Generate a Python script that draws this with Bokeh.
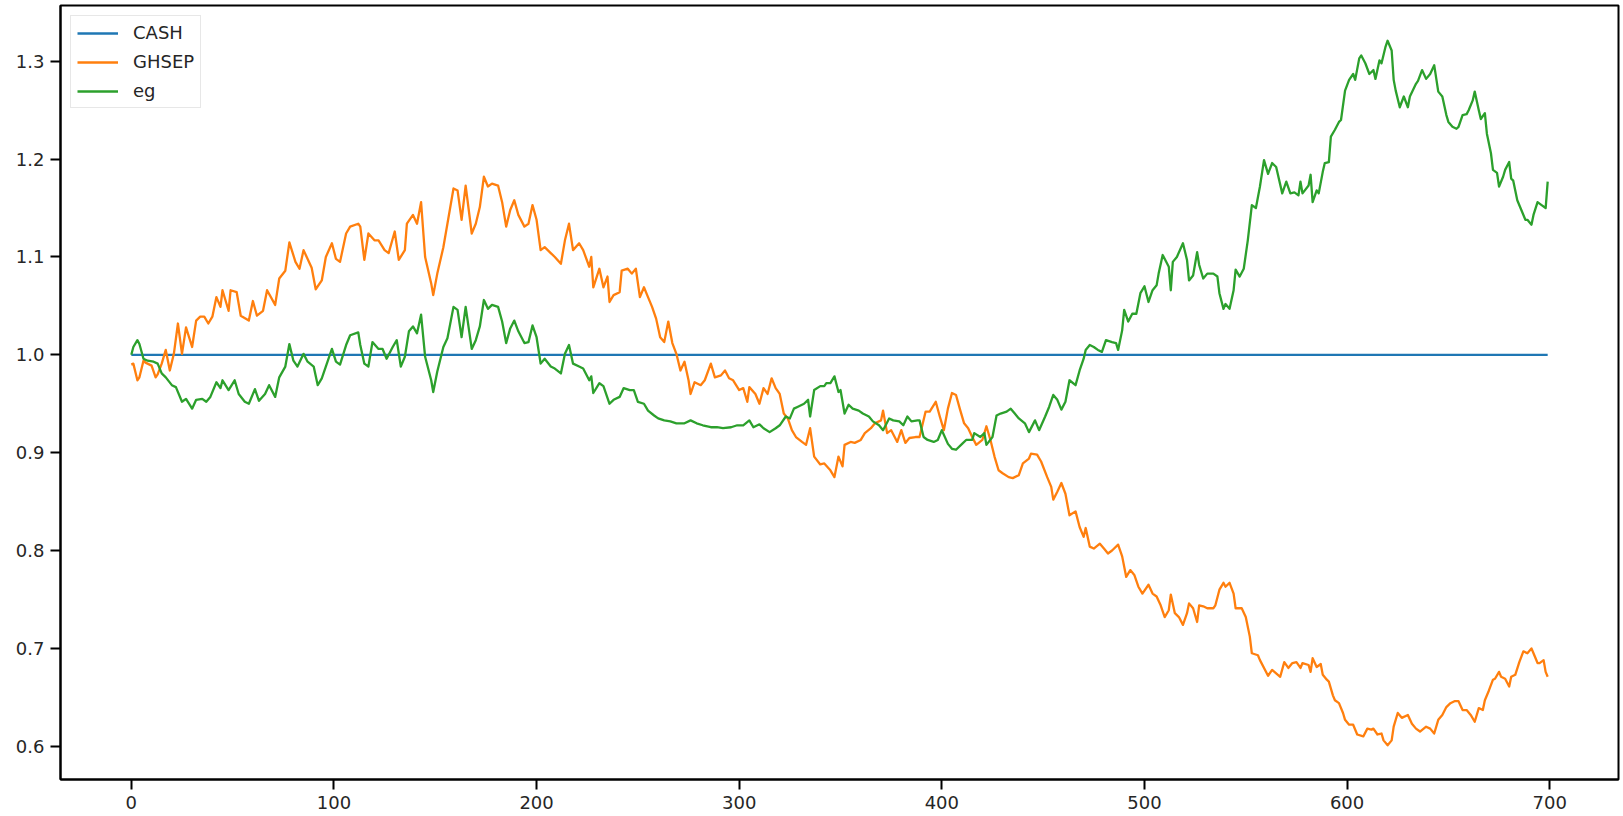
from bokeh.plotting import figure
from bokeh.models import Range1d, FixedTicker, Legend, LegendItem
from bokeh.embed import file_html
from bokeh.resources import INLINE

# ---- data ----
series_names = ["CASH", "GHSEP", "eg"]
series_colors = ["#1f77b4", "#ff7f0e", "#2ca02c"]

cash_x = [0, 699]
cash_y = [1.0, 1.0]

ghsep = [
    (0, 0.990), (1, 0.991), (3, 0.974), (4, 0.977), (6, 0.994), (7, 0.992), (10, 0.989), (12, 0.977), (13, 0.980),
    (15, 0.991), (17, 1.005), (19, 0.984), (21, 1.001), (23, 1.032), (25, 1.001), (27, 1.028), (30, 1.008),
    (32, 1.035), (34, 1.039), (36, 1.039), (38, 1.032), (40, 1.039), (42, 1.059), (44, 1.049), (45, 1.066),
    (48, 1.045), (49, 1.066), (52, 1.064), (54, 1.040), (58, 1.035), (60, 1.055), (62, 1.040), (65, 1.045),
    (67, 1.066), (71, 1.051), (73, 1.078), (76, 1.086), (78, 1.115), (81, 1.095), (83, 1.088), (85, 1.107),
    (89, 1.089), (91, 1.067), (94, 1.076), (96, 1.100), (99, 1.114), (101, 1.098), (103, 1.095), (106, 1.124),
    (108, 1.131), (112, 1.134), (113, 1.131), (115, 1.097), (117, 1.124), (120, 1.117), (122, 1.117),
    (125, 1.107), (127, 1.104), (130, 1.126), (132, 1.097), (135, 1.107), (136, 1.134), (139, 1.143),
    (141, 1.134), (143, 1.156), (145, 1.100), (148, 1.073), (149, 1.061), (151, 1.083), (154, 1.110),
    (156, 1.134), (159, 1.170), (161, 1.168), (163, 1.138), (165, 1.173), (168, 1.124), (170, 1.134),
    (172, 1.151), (174, 1.182), (176, 1.172), (178, 1.175), (181, 1.173), (183, 1.156), (185, 1.131),
    (187, 1.148), (189, 1.158), (191, 1.143), (194, 1.131), (196, 1.134), (198, 1.153), (200, 1.138),
    (202, 1.107), (204, 1.110), (207, 1.104), (209, 1.100), (212, 1.093), (214, 1.117), (216, 1.134),
    (218, 1.107), (221, 1.114), (223, 1.107), (226, 1.090), (227, 1.100), (228, 1.069), (231, 1.088),
    (233, 1.069), (235, 1.080), (236, 1.054), (238, 1.061), (241, 1.064), (242, 1.086), (245, 1.088),
    (247, 1.083), (249, 1.088), (251, 1.059), (253, 1.069), (255, 1.059), (257, 1.049), (259, 1.037),
    (261, 1.018), (263, 1.013), (265, 1.034), (267, 1.012), (269, 1.001), (271, 0.984), (273, 0.993),
    (275, 0.974), (276, 0.960), (278, 0.972), (281, 0.969), (283, 0.974), (286, 0.991), (288, 0.977),
    (291, 0.979), (293, 0.984), (295, 0.976), (297, 0.974), (300, 0.964), (302, 0.966), (304, 0.952),
    (305, 0.967), (308, 0.960), (310, 0.950), (312, 0.966), (314, 0.960), (316, 0.976), (318, 0.966),
    (320, 0.960), (322, 0.940), (324, 0.935), (326, 0.923), (328, 0.916), (331, 0.911), (333, 0.908),
    (335, 0.925), (337, 0.896), (340, 0.888), (342, 0.889), (345, 0.882), (347, 0.875), (349, 0.896),
    (351, 0.886), (352, 0.908), (355, 0.911), (357, 0.910), (360, 0.913), (362, 0.920), (365, 0.925),
    (367, 0.930), (370, 0.933), (371, 0.943), (373, 0.920), (375, 0.923), (378, 0.911), (380, 0.923),
    (382, 0.910), (384, 0.915), (387, 0.916), (389, 0.916), (392, 0.942), (394, 0.942), (397, 0.952),
    (399, 0.937), (401, 0.923), (403, 0.945), (405, 0.961), (407, 0.959), (409, 0.944), (411, 0.930),
    (413, 0.925), (415, 0.916), (417, 0.908), (420, 0.913), (422, 0.927), (424, 0.913), (426, 0.896),
    (428, 0.882), (430, 0.879), (433, 0.875), (435, 0.874), (438, 0.877), (440, 0.889), (443, 0.894),
    (444, 0.899), (447, 0.898), (449, 0.891), (452, 0.875), (454, 0.865), (455, 0.852), (457, 0.860),
    (459, 0.869), (461, 0.858), (463, 0.836), (466, 0.840), (468, 0.824), (470, 0.814), (471, 0.823),
    (473, 0.804), (475, 0.802), (478, 0.807), (480, 0.802), (482, 0.797), (484, 0.800), (487, 0.806),
    (489, 0.794), (491, 0.773), (493, 0.780), (495, 0.775), (497, 0.763), (499, 0.756), (502, 0.765),
    (504, 0.756), (506, 0.753), (508, 0.744), (510, 0.732), (512, 0.739), (513, 0.755), (515, 0.736),
    (517, 0.732), (519, 0.724), (521, 0.736), (522, 0.746), (524, 0.741), (526, 0.727), (527, 0.744),
    (529, 0.743), (531, 0.741), (534, 0.741), (535, 0.744), (537, 0.760), (539, 0.767), (540, 0.763),
    (542, 0.767), (544, 0.756), (545, 0.741), (548, 0.741), (550, 0.732), (552, 0.712), (553, 0.695),
    (556, 0.693), (557, 0.688), (561, 0.672), (563, 0.678), (567, 0.671), (569, 0.686), (571, 0.680),
    (573, 0.685), (575, 0.686), (577, 0.680), (578, 0.685), (581, 0.683), (582, 0.676), (583, 0.690),
    (585, 0.681), (587, 0.684), (588, 0.673), (590, 0.668), (591, 0.666), (593, 0.652), (594, 0.647),
    (596, 0.644), (598, 0.634), (599, 0.627), (601, 0.622), (603, 0.622), (605, 0.612), (608, 0.610),
    (610, 0.618), (612, 0.617), (613, 0.618), (615, 0.612), (617, 0.613), (618, 0.606), (620, 0.601),
    (622, 0.606), (623, 0.620), (625, 0.634), (627, 0.629), (630, 0.632), (632, 0.623), (634, 0.618),
    (636, 0.615), (639, 0.620), (641, 0.618), (643, 0.613), (645, 0.627), (647, 0.632), (649, 0.640),
    (651, 0.644), (653, 0.646), (655, 0.646), (657, 0.637), (659, 0.637), (661, 0.632), (663, 0.625),
    (665, 0.639), (667, 0.637), (668, 0.647), (670, 0.657), (672, 0.668), (673, 0.669), (675, 0.676),
    (676, 0.671), (678, 0.669), (680, 0.661), (681, 0.671), (683, 0.673), (685, 0.686), (687, 0.697),
    (689, 0.695), (691, 0.700), (692, 0.695), (694, 0.685), (695, 0.685), (697, 0.688), (698, 0.676),
    (699, 0.671),
]

eg = [
    (0, 1.000), (1, 1.008), (3, 1.015), (4, 1.011), (6, 0.996), (8, 0.994), (11, 0.993), (13, 0.991),
    (15, 0.981), (17, 0.977), (20, 0.969), (22, 0.967), (25, 0.952), (27, 0.955), (30, 0.945), (32, 0.954),
    (35, 0.955), (37, 0.952), (39, 0.957), (42, 0.972), (44, 0.966), (45, 0.974), (48, 0.964), (51, 0.974),
    (53, 0.960), (56, 0.952), (58, 0.950), (61, 0.965), (63, 0.953), (66, 0.960), (68, 0.969), (71, 0.957),
    (73, 0.977), (76, 0.988), (78, 1.011), (80, 0.994), (82, 0.988), (85, 1.001), (87, 0.993), (90, 0.988),
    (92, 0.969), (94, 0.976), (97, 0.994), (99, 1.006), (101, 0.993), (103, 0.990), (106, 1.010),
    (108, 1.020), (112, 1.023), (113, 1.010), (115, 0.991), (117, 0.988), (119, 1.013), (122, 1.006),
    (124, 1.006), (126, 0.996), (129, 1.008), (131, 1.015), (133, 0.988), (135, 0.998), (137, 1.024),
    (139, 1.029), (141, 1.022), (143, 1.041), (145, 0.998), (148, 0.974), (149, 0.962), (151, 0.983),
    (154, 1.008), (156, 1.017), (159, 1.049), (161, 1.046), (163, 1.018), (165, 1.049), (168, 1.006),
    (170, 1.015), (172, 1.029), (174, 1.056), (176, 1.047), (178, 1.051), (181, 1.049), (183, 1.034),
    (185, 1.012), (187, 1.027), (189, 1.035), (191, 1.024), (194, 1.012), (196, 1.013), (198, 1.030),
    (200, 1.018), (202, 0.991), (204, 0.996), (207, 0.988), (209, 0.986), (212, 0.981), (214, 1.001),
    (216, 1.010), (218, 0.991), (221, 0.988), (223, 0.986), (226, 0.974), (227, 0.978), (228, 0.961),
    (231, 0.971), (233, 0.968), (236, 0.950), (238, 0.954), (241, 0.957), (243, 0.966), (246, 0.964),
    (248, 0.964), (250, 0.952), (253, 0.950), (255, 0.943), (258, 0.938), (260, 0.935), (263, 0.933),
    (266, 0.932), (269, 0.930), (273, 0.930), (276, 0.933), (279, 0.930), (282, 0.928), (286, 0.926),
    (289, 0.926), (292, 0.925), (296, 0.926), (299, 0.928), (302, 0.928), (305, 0.933), (307, 0.926),
    (310, 0.929), (312, 0.925), (315, 0.921), (318, 0.925), (320, 0.928), (323, 0.937), (325, 0.935),
    (327, 0.945), (329, 0.947), (332, 0.950), (334, 0.954), (335, 0.937), (337, 0.964), (340, 0.968),
    (342, 0.968), (343, 0.971), (345, 0.971), (347, 0.978), (349, 0.962), (350, 0.964), (352, 0.940),
    (354, 0.949), (356, 0.945), (359, 0.943), (361, 0.940), (364, 0.937), (366, 0.932), (369, 0.928),
    (371, 0.923), (374, 0.935), (376, 0.933), (379, 0.932), (381, 0.928), (383, 0.937), (385, 0.932),
    (388, 0.933), (389, 0.933), (391, 0.916), (393, 0.913), (396, 0.911), (398, 0.913), (400, 0.923),
    (403, 0.909), (405, 0.904), (407, 0.903), (410, 0.909), (412, 0.913), (415, 0.913), (416, 0.920),
    (419, 0.916), (421, 0.920), (422, 0.908), (425, 0.916), (427, 0.938), (429, 0.940), (432, 0.942),
    (434, 0.945), (436, 0.940), (438, 0.935), (441, 0.930), (443, 0.921), (446, 0.933), (448, 0.923),
    (451, 0.937), (453, 0.947), (455, 0.959), (457, 0.954), (459, 0.944), (461, 0.952), (463, 0.974),
    (466, 0.969), (468, 0.984), (470, 0.996), (471, 1.005), (473, 1.010), (475, 1.008), (477, 1.005),
    (479, 1.003), (481, 1.015), (484, 1.013), (486, 1.012), (487, 1.005), (489, 1.025), (490, 1.046),
    (492, 1.034), (494, 1.042), (496, 1.042), (498, 1.063), (500, 1.070), (502, 1.054), (504, 1.066),
    (506, 1.071), (507, 1.083), (509, 1.102), (512, 1.090), (513, 1.066), (514, 1.095), (516, 1.100),
    (519, 1.114), (521, 1.097), (522, 1.076), (524, 1.081), (526, 1.105), (527, 1.092), (529, 1.078),
    (531, 1.083), (534, 1.083), (536, 1.080), (537, 1.063), (539, 1.047), (540, 1.052), (542, 1.047),
    (544, 1.066), (545, 1.087), (547, 1.080), (549, 1.088), (551, 1.117), (553, 1.153), (555, 1.150),
    (557, 1.172), (559, 1.199), (561, 1.185), (563, 1.196), (565, 1.192), (568, 1.165), (570, 1.177),
    (572, 1.165), (574, 1.166), (576, 1.163), (577, 1.177), (578, 1.165), (581, 1.173), (582, 1.184),
    (583, 1.156), (585, 1.168), (586, 1.165), (588, 1.187), (589, 1.196), (591, 1.197), (592, 1.223),
    (594, 1.230), (596, 1.238), (597, 1.240), (599, 1.270), (601, 1.281), (603, 1.287), (604, 1.281),
    (606, 1.303), (607, 1.306), (609, 1.298), (611, 1.287), (613, 1.291), (614, 1.282), (616, 1.301),
    (617, 1.298), (619, 1.315), (620, 1.321), (622, 1.311), (623, 1.281), (624, 1.270), (626, 1.253),
    (628, 1.264), (630, 1.253), (631, 1.264), (634, 1.277), (635, 1.280), (637, 1.291), (639, 1.282),
    (641, 1.287), (643, 1.296), (645, 1.269), (647, 1.264), (649, 1.245), (650, 1.238), (652, 1.233),
    (654, 1.231), (655, 1.233), (657, 1.245), (659, 1.246), (660, 1.250), (662, 1.260), (663, 1.269),
    (665, 1.250), (666, 1.241), (668, 1.247), (669, 1.226), (671, 1.206), (672, 1.189), (674, 1.186),
    (675, 1.172), (677, 1.182), (678, 1.189), (680, 1.197), (681, 1.180), (682, 1.178), (684, 1.158),
    (686, 1.148), (688, 1.138), (689, 1.138), (691, 1.133), (692, 1.143), (694, 1.156), (696, 1.153),
    (698, 1.150), (699, 1.177),
]

x_ticks = [0, 100, 200, 300, 400, 500, 600, 700]
y_ticks = [0.6, 0.7, 0.8, 0.9, 1.0, 1.1, 1.2, 1.3]
x_tick_labels = ["0", "100", "200", "300", "400", "500", "600", "700"]
y_tick_labels = ["0.6", "0.7", "0.8", "0.9", "1.0", "1.1", "1.2", "1.3"]

FONT = "DejaVu Sans"
TXT = "#262626"

p = figure(width=1621, height=814, output_backend="svg", toolbar_location=None,
           x_range=Range1d(-34.95, 733.95), y_range=Range1d(0.566, 1.357),
           min_border_left=60, min_border_right=3, min_border_top=5, min_border_bottom=35)
p.background_fill_color = "white"
p.border_fill_color = "white"
p.grid.visible = False
p.outline_line_color = "black"
p.outline_line_width = 2

for ax in (p.xaxis[0], p.yaxis[0]):
    ax.axis_line_color = "black"
    ax.axis_line_width = 2
    ax.major_tick_line_color = "black"
    ax.major_tick_line_width = 2
    ax.major_tick_out = 10
    ax.major_tick_in = 0
    ax.minor_tick_out = 0
    ax.minor_tick_in = 0
    ax.major_label_text_font = FONT
    ax.major_label_text_font_size = "18px"
    ax.major_label_text_color = TXT
    ax.major_label_standoff = 6

p.xaxis[0].ticker = FixedTicker(ticks=x_ticks)
p.yaxis[0].ticker = FixedTicker(ticks=y_ticks)
p.xaxis[0].major_label_overrides = dict(zip(x_ticks, x_tick_labels))
p.yaxis[0].major_label_overrides = {float(k): v for k, v in zip(y_ticks, y_tick_labels)}

gx = [a for a, b in ghsep]
gy = [b for a, b in ghsep]
ex = [a for a, b in eg]
ey = [b for a, b in eg]

r_cash = p.line(cash_x, cash_y, line_color=series_colors[0], line_width=2.3)
r_gh = p.line(gx, gy, line_color=series_colors[1], line_width=2.3, line_join="round")
r_eg = p.line(ex, ey, line_color=series_colors[2], line_width=2.3, line_join="round")

legend = Legend(items=[LegendItem(label=series_names[0], renderers=[r_cash]),
                       LegendItem(label=series_names[1], renderers=[r_gh]),
                       LegendItem(label=series_names[2], renderers=[r_eg])],
                location="top_left")
legend.margin = 10
legend.padding = 6
legend.spacing = 8
legend.glyph_width = 41
legend.glyph_height = 20
legend.label_height = 20
legend.label_standoff = 15
legend.label_text_font = FONT
legend.label_text_font_size = "18px"
legend.label_text_color = TXT
legend.border_line_color = "#d0d0d0"
legend.border_line_width = 1
legend.background_fill_color = "white"
legend.background_fill_alpha = 0.8
p.add_layout(legend)

open("out.html", "w").write(file_html(p, INLINE))
